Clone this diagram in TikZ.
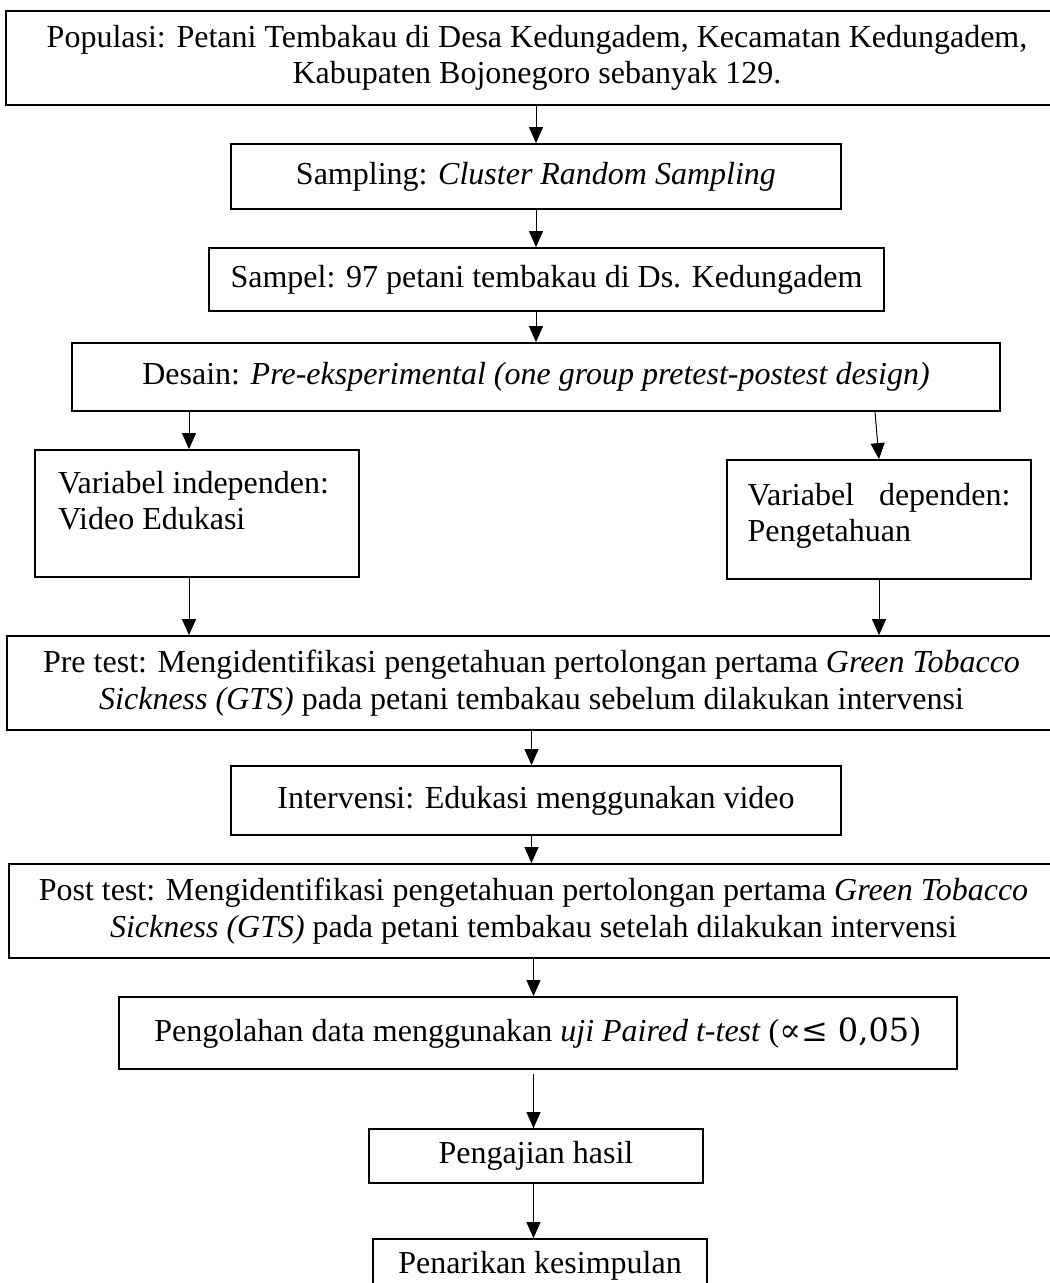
\documentclass[tikz,border=0pt]{standalone}
\usepackage{fontspec}
\setmainfont{Liberation Serif}
\newfontfamily\simbol{DejaVu Serif}
\usetikzlibrary{arrows.meta}

\tikzset{
    kotak/.style={draw, line width=0.9pt, align=center, inner sep=0pt, font=\fontsize{16}{18.2}\selectfont},
    panah/.style={-{Triangle[length=8pt,width=7pt]}, line width=0.5pt},
}

\begin{document}
\begin{tikzpicture}[x=0.5pt, y=-0.5pt]
        \useasboundingbox (0,0) rectangle (1049,1283);

        \node[kotak, minimum width=531pt, minimum height=47pt] (populasi) at (537,58) {Populasi: Petani Tembakau di Desa Kedungadem, Kecamatan Kedungadem,\\Kabupaten Bojonegoro sebanyak 129.}; %populasi
        \node[kotak, minimum width=305pt, minimum height=32.5pt] (sampling) at (536,176.5) {Sampling: \textit{Cluster Random Sampling}}; %sampling
        \node[kotak, minimum width=337.5pt, minimum height=31.5pt] (sampel) at (546.5,279.5) {Sampel: 97 petani tembakau di Ds. Kedungadem}; %sampel
        \node[kotak, minimum width=464pt, minimum height=34pt] (desain) at (536,377) {Desain: \textit{Pre-eksperimental (one group pretest-postest design)}}; %desain

        \node[kotak, minimum width=162pt, minimum height=63.5pt] (varIndep) at (197,513.5)
            {\parbox[c][42.7pt][t]{139pt}{\raggedright Variabel independen:\\Video Edukasi}}; %variabel independen
        \node[kotak, minimum width=152pt, minimum height=59.5pt] (varDep) at (879,519.5)
            {\parbox[c][36.7pt][t]{131.5pt}{Variabel\hfill dependen:\\Pengetahuan}}; %variabel dependen

        \node[kotak, minimum width=524.5pt, minimum height=47pt] (preTest) at (531.5,683) {Pre test: Mengidentifikasi pengetahuan pertolongan pertama \textit{Green Tobacco}\\\textit{Sickness (GTS)} pada petani tembakau sebelum dilakukan intervensi}; %pre test
        \node[kotak, minimum width=305pt, minimum height=34.5pt] (intervensi) at (536,800.5) {Intervensi: Edukasi menggunakan video}; %intervensi
        \node[kotak, minimum width=524.5pt, minimum height=47pt] (postTest) at (533.5,911) {Post test: Mengidentifikasi pengetahuan pertolongan pertama \textit{Green Tobacco}\\\textit{Sickness (GTS)} pada petani tembakau setelah dilakukan intervensi}; %post test
        \node[kotak, minimum width=419pt, minimum height=36pt] (olahData) at (538,1033) {Pengolahan data menggunakan \textit{uji Paired t-test} ({\simbol ∝≤ 0,05)}}; %pengolahan data
        \node[kotak, minimum width=167pt, minimum height=27pt] (pengajian) at (536,1156) {Pengajian hasil}; %pengajian hasil
        \node[kotak, minimum width=167pt, minimum height=27pt] (kesimpulan) at (540,1266) {Penarikan kesimpulan}; %kesimpulan

        % panah
        \draw[panah] (populasi.south -| sampling) -- (sampling.north);
        \draw[panah] (sampling.south) -- (sampel.north -| sampling);
        \draw[panah] (sampel.south -| desain) -- (desain.north);
        \draw[panah] ([xshift=-4pt]desain.south -| varIndep) -- ([xshift=-4pt]varIndep.north);
        \draw[panah] ([xshift=-2pt]desain.south -| varDep) -- (varDep.north);
        \draw[panah] ([xshift=-4pt]varIndep.south) -- ([xshift=-4pt]preTest.north -| varIndep);
        \draw[panah] (varDep.south) -- (preTest.north -| varDep);
        \draw[panah] (preTest.south) -- (intervensi.north -| preTest);
        \draw[panah] (intervensi.south -| preTest) -- (postTest.north -| preTest);
        \draw[panah] (postTest.south) -- (olahData.north -| postTest);
        \draw[panah] ([yshift=-2pt]olahData.south -| postTest) -- (pengajian.north -| postTest);
        \draw[panah] (pengajian.south -| postTest) -- (kesimpulan.north -| postTest);
\end{tikzpicture}
\end{document}
